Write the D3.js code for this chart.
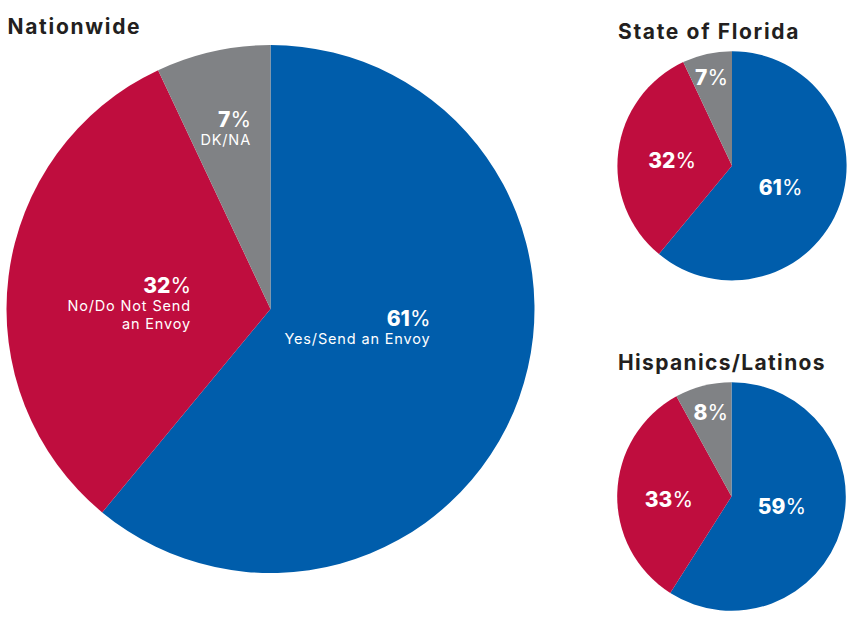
<!DOCTYPE html>
<html lang="en">
<head>
<meta charset="UTF-8">
<title>Send an Envoy</title>
<script src="https://d3js.org/d3.v7.min.js"></script>
<style>
  html, body { margin: 0; padding: 0; background: #fff; }
  svg { display: block; }
  text { font-family: Inter, "Open Sans", sans-serif; }
</style>
</head>
<body>
<svg id="chart" width="860" height="639"></svg>
<script>
const categories = ["Yes/Send an Envoy", "No/Do Not Send an Envoy", "DK/NA"];
const colorList = ["#005dab", "#bf0d3e", "#808285"];
const nationwide = [61, 32, 7];
const florida = [61, 32, 7];
const hispanics = [59, 33, 8];

const svg = d3.select("#chart");
const color = d3.scaleOrdinal(categories, colorList);

// one pie with its title, label spots are relative to the pie centre
function drawPie(opts) {
  const g = svg.append("g").attr("transform", `translate(${opts.cx},${opts.cy})`);
  const rows = categories.map((c, i) => ({ name: c, value: opts.values[i] }));
  const pie = d3.pie().value(d => d.value).sort(null);
  const arc = d3.arc().innerRadius(0).outerRadius(opts.r);

  g.selectAll("path")
    .data(pie(rows))
    .join("path")
    .attr("d", arc)
    .attr("fill", d => color(d.data.name));

  svg.append("text")
    .attr("x", opts.titleX)
    .attr("y", opts.titleY)
    .attr("font-size", 21)
    .attr("font-weight", 700)
    .attr("letter-spacing", opts.titleSpacing)
    .attr("fill", "#231f20")
    .text(opts.title);

  opts.labels.forEach((l, i) => {
    const t = g.append("text")
      .attr("x", l.x)
      .attr("y", l.y)
      .attr("text-anchor", "end")
      .attr("fill", "#fff")
      .attr("font-size", 21);
    t.append("tspan").attr("font-weight", 800).text(opts.values[i]);
    t.append("tspan").attr("font-weight", 400).text("%");
    (l.sub || []).forEach((s, j) => {
      g.append("text")
        .attr("x", l.x)
        .attr("y", l.y + 18 + j * 17.6)
        .attr("text-anchor", "end")
        .attr("fill", "#fff")
        .attr("font-size", 14.5)
        .attr("letter-spacing", 0.85)
        .text(s);
    });
  });
}

drawPie({
  cx: 270.5, cy: 309, r: 264, values: nationwide,
  title: "Nationwide", titleX: 7.5, titleY: 33.5, titleSpacing: 1.7,
  labels: [
    { x: 160, y: 17, sub: ["Yes/Send an Envoy"] },
    { x: -79.5, y: -16, sub: ["No/Do Not Send", "an Envoy"] },
    { x: -19.5, y: -182, sub: ["DK/NA"] }
  ]
});
drawPie({
  cx: 732, cy: 165.8, r: 114.6, values: florida,
  title: "State of Florida", titleX: 618, titleY: 38.5, titleSpacing: 1.65,
  labels: [
    { x: 70.5, y: 29.5 },
    { x: -36, y: 2.5 },
    { x: -4, y: -80.5 }
  ]
});
drawPie({
  cx: 731.5, cy: 496.5, r: 114.3, values: hispanics,
  title: "Hispanics/Latinos", titleX: 618, titleY: 370, titleSpacing: 1.35,
  labels: [
    { x: 74.5, y: 17.5 },
    { x: -38.5, y: 10.5 },
    { x: -3.5, y: -77 }
  ]
});
</script>
</body>
</html>
